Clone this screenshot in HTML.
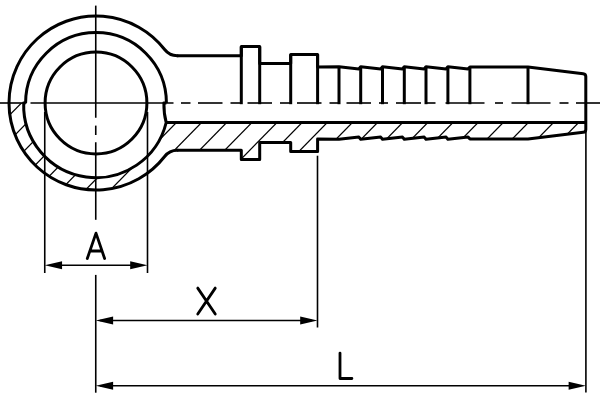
<!DOCTYPE html>
<html><head><meta charset="utf-8"><title>Banjo hose fitting</title>
<style>
html,body{margin:0;padding:0;background:#fff;}
body{width:600px;height:400px;overflow:hidden;font-family:"Liberation Sans",sans-serif;}
svg{display:block;}
</style></head><body>
<svg width="600" height="400" viewBox="0 0 600 400">
<rect width="600" height="400" fill="#fff"/>
<defs><clipPath id="mat"><path d="M 9.00 103.0 A 87.0 87.0 0 0 0 164.63 156.47 A 16.0 16.0 0 0 1 177.25 150.30  L 177.25 150.30 L 241.30 150.30 L 241.30 159.40 L 259.70 159.40 L 259.70 142.60 L 290.70 142.60 L 290.70 151.60 L 317.60 151.60 L 317.60 139.00 L 339.00 139.20 L 358.90 137.10 L 360.70 139.30 L 380.70 137.10 L 382.50 139.30 L 402.50 137.10 L 404.30 139.30 L 424.20 137.10 L 426.00 139.30 L 446.10 137.10 L 447.90 139.30 L 468.10 137.10 L 469.90 138.90 L 528.00 138.90 L 583.20 132.30 L 585.8 129.4 L 585.8 122.5 L 166.2 122.5 A 72.3 72.3 0 0 1 23.70 103.0 Z"/></clipPath></defs>
<g stroke="#000" stroke-width="1.25" fill="none" clip-path="url(#mat)"><line x1="-0.46" y1="100" x2="-93.56" y2="195"/><line x1="24.41" y1="100" x2="-68.69" y2="195"/><line x1="49.28" y1="100" x2="-43.82" y2="195"/><line x1="74.15" y1="100" x2="-18.95" y2="195"/><line x1="99.02" y1="100" x2="5.92" y2="195"/><line x1="123.89" y1="100" x2="30.79" y2="195"/><line x1="148.76" y1="100" x2="55.66" y2="195"/><line x1="173.63" y1="100" x2="80.53" y2="195"/><line x1="198.50" y1="100" x2="105.40" y2="195"/><line x1="223.64" y1="100" x2="130.54" y2="195"/><line x1="248.78" y1="100" x2="155.68" y2="195"/><line x1="273.92" y1="100" x2="180.82" y2="195"/><line x1="299.06" y1="100" x2="205.96" y2="195"/><line x1="324.20" y1="100" x2="231.10" y2="195"/><line x1="349.34" y1="100" x2="256.24" y2="195"/><line x1="374.48" y1="100" x2="281.38" y2="195"/><line x1="399.62" y1="100" x2="306.52" y2="195"/><line x1="424.76" y1="100" x2="331.66" y2="195"/><line x1="449.90" y1="100" x2="356.80" y2="195"/><line x1="475.04" y1="100" x2="381.94" y2="195"/><line x1="500.18" y1="100" x2="407.08" y2="195"/><line x1="525.32" y1="100" x2="432.22" y2="195"/><line x1="550.46" y1="100" x2="457.36" y2="195"/><line x1="575.60" y1="100" x2="482.50" y2="195"/><line x1="600.74" y1="100" x2="507.64" y2="195"/><line x1="625.88" y1="100" x2="532.78" y2="195"/></g>
<g stroke="#000" stroke-width="1.6" fill="none">
<line x1="0" y1="103.0" x2="26.5" y2="103.0"/><line x1="30.5" y1="103.0" x2="173.5" y2="103.0"/><line x1="181" y1="103.0" x2="190.5" y2="103.0"/><line x1="198" y1="103.0" x2="222.5" y2="103.0"/><line x1="230.5" y1="103.0" x2="240.5" y2="103.0"/><line x1="247.5" y1="103.0" x2="272" y2="103.0"/><line x1="280" y1="103.0" x2="291" y2="103.0"/><line x1="297" y1="103.0" x2="321.5" y2="103.0"/><line x1="329.5" y1="103.0" x2="340" y2="103.0"/><line x1="346.5" y1="103.0" x2="371" y2="103.0"/><line x1="379" y1="103.0" x2="388" y2="103.0"/><line x1="396" y1="103.0" x2="421" y2="103.0"/><line x1="426.5" y1="103.0" x2="435.5" y2="103.0"/><line x1="445.5" y1="103.0" x2="484.5" y2="103.0"/><line x1="495" y1="103.0" x2="503" y2="103.0"/><line x1="511.5" y1="103.0" x2="550.5" y2="103.0"/><line x1="559.5" y1="103.0" x2="568.5" y2="103.0"/><line x1="576" y1="103.0" x2="600" y2="103.0"/>
<line x1="95.75" y1="5.6" x2="95.75" y2="117.75"/><line x1="95.75" y1="125.6" x2="95.75" y2="135"/><line x1="95.75" y1="142.25" x2="95.75" y2="219.8"/><line x1="95.75" y1="274.9" x2="95.75" y2="392.7"/>
<line x1="44.75" y1="112" x2="44.75" y2="273"/>
<line x1="147.5" y1="112" x2="147.5" y2="273"/>
<line x1="317.5" y1="155.7" x2="317.5" y2="327.5"/>
<line x1="585.9" y1="131" x2="585.9" y2="392.5"/>
<line x1="50" y1="265.3" x2="142" y2="265.3"/>
<line x1="100" y1="320.5" x2="312" y2="320.5"/>
<line x1="100" y1="385.7" x2="580" y2="385.7"/>
</g>
<g fill="#000" stroke="none">
<polygon points="44.75,265.3 62.05,261.3 62.05,269.3"/><polygon points="147.5,265.3 130.2,261.3 130.2,269.3"/>
<polygon points="95.8,320.5 113.1,316.5 113.1,324.5"/><polygon points="317.5,320.5 300.2,316.5 300.2,324.5"/>
<polygon points="95.8,385.7 113.1,381.7 113.1,389.7"/><polygon points="585.9,385.7 568.6,381.7 568.6,389.7"/>
</g>
<g stroke="#000" stroke-width="3.0" fill="none" stroke-linejoin="round" stroke-linecap="butt">
<path d="M 177.25 55.70 L 241.30 55.70 L 241.30 46.60 L 259.70 46.60 L 259.70 63.40 L 290.70 63.40 L 290.70 54.40 L 317.60 54.40 L 317.60 67.00 L 339.00 66.80 L 358.90 68.90 L 360.70 66.70 L 380.70 68.90 L 382.50 66.70 L 402.50 68.90 L 404.30 66.70 L 424.20 68.90 L 426.00 66.70 L 446.10 68.90 L 447.90 66.70 L 468.10 68.90 L 469.90 67.10 L 528.00 67.10 L 583.20 73.70 Q 585.8 74.0 585.8 76.6 L 585.8 129.4 Q 585.8 132.0 583.2 132.3 L 583.20 132.30 L 528.00 138.90 L 469.90 138.90 L 468.10 137.10 L 447.90 139.30 L 446.10 137.10 L 426.00 139.30 L 424.20 137.10 L 404.30 139.30 L 402.50 137.10 L 382.50 139.30 L 380.70 137.10 L 360.70 139.30 L 358.90 137.10 L 339.00 139.20 L 317.60 139.00 L 317.60 151.60 L 290.70 151.60 L 290.70 142.60 L 259.70 142.60 L 259.70 159.40 L 241.30 159.40 L 241.30 150.30 L 177.25 150.30"/>
<line x1="241.3" y1="46.6" x2="241.3" y2="104.2"/><line x1="259.7" y1="46.6" x2="259.7" y2="104.2"/><line x1="290.7" y1="54.4" x2="290.7" y2="104.2"/><line x1="317.6" y1="54.4" x2="317.6" y2="104.2"/><line x1="339.0" y1="66.7" x2="339.0" y2="104.2"/><line x1="360.7" y1="66.7" x2="360.7" y2="104.2"/><line x1="382.5" y1="66.7" x2="382.5" y2="104.2"/><line x1="404.3" y1="66.7" x2="404.3" y2="104.2"/><line x1="426.0" y1="66.7" x2="426.0" y2="104.2"/><line x1="447.9" y1="66.7" x2="447.9" y2="104.2"/><line x1="469.9" y1="67.1" x2="469.9" y2="104.2"/><line x1="528.0" y1="67.1" x2="528.0" y2="104.2"/>
<line x1="165.5" y1="122.5" x2="585.8" y2="122.5"/>
</g>
<g stroke="#000" stroke-width="3.0" fill="none" stroke-linejoin="round" stroke-linecap="butt">
<path d="M 178.25 55.7 L 177.25 55.7 A 16.0 16.0 0 0 1 164.63 49.53 A 87.0 87.0 0 1 0 164.63 156.47 A 16.0 16.0 0 0 1 177.25 150.30 L 178.25 150.30"/>
<circle cx="96.0" cy="103.0" r="50.9"/>
<path d="M 25.60 103.0 A 70.4 70.4 0 0 1 166.40 103.0"/>
<path d="M 25.60 103.0 L 23.70 103.0 A 72.3 72.3 0 0 0 166.2 122.5 Q 163.8 114 163.9 103.0 L 166.40 103.0"/>
</g>
<g stroke="#000" stroke-width="2.8" fill="none" stroke-linecap="round" stroke-linejoin="round">
<path d="M 87.3 258.5 L 96 233.1 L 104.6 258.5 M 90 251 L 101.9 251"/>
<path d="M 197.75 288.1 L 215.25 314 M 215.25 288.1 L 197.75 314"/>
<path d="M 340 353.1 L 340 378.5 L 351.9 378.5"/>
</g>
</svg>
</body></html>
